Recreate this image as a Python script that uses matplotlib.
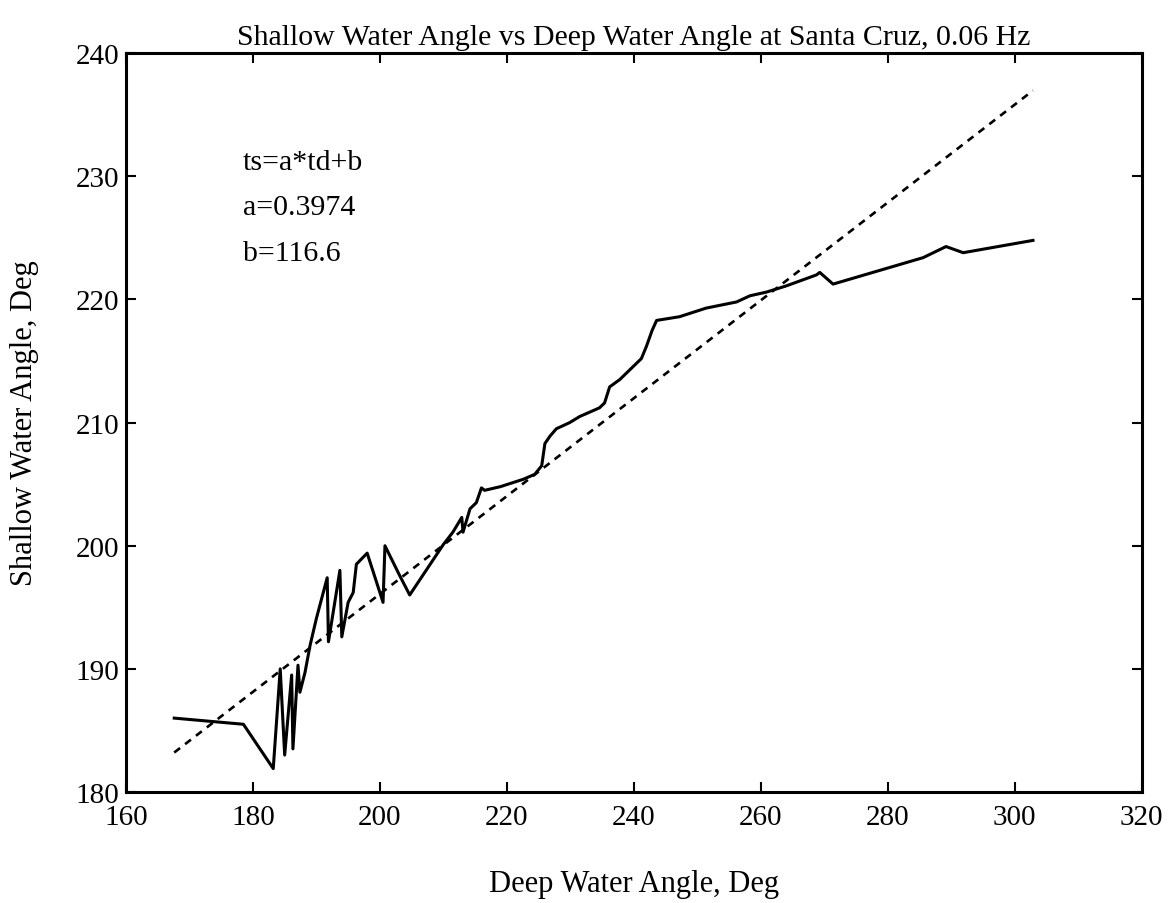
import numpy as np
import matplotlib
matplotlib.use("Agg")
import matplotlib.pyplot as plt

plt.rcParams['font.family'] = ['Liberation Serif', 'DejaVu Serif']

# deep water angle (deg) and shallow water angle (deg), Santa Cruz, 0.06 Hz
deepAngle = [167.6, 178.5, 183.2, 184.3, 185.0, 186.1, 186.3, 187.1, 187.4, 188.2,
             189.0, 190.0, 191.7, 191.9, 193.7, 194.0, 195.0, 195.8, 196.3, 198.0,
             200.5, 200.8, 203.1, 204.7, 210.0, 211.5, 212.9, 213.1, 214.2, 215.2,
             216.0, 216.5, 219.0, 222.6, 224.4, 225.5, 226.0, 226.8, 227.8, 229.9,
             231.5, 234.6, 235.4, 236.2, 237.8, 241.2, 242.0, 242.9, 243.6, 247.2,
             251.4, 256.2, 258.3, 260.9, 264.0, 268.8, 269.3, 271.4, 285.6, 289.2,
             291.9, 302.9]
shallowAngle = [186.0, 185.5, 181.9, 190.0, 183.0, 189.5, 183.5, 190.3, 188.1, 189.7,
                191.9, 194.1, 197.4, 192.2, 198.0, 192.6, 195.4, 196.2, 198.5, 199.4,
                195.4, 200.0, 197.6, 196.0, 200.1, 201.1, 202.3, 201.1, 203.0, 203.5,
                204.7, 204.5, 204.8, 205.4, 205.8, 206.5, 208.3, 208.9, 209.5, 210.0,
                210.5, 211.2, 211.6, 212.9, 213.5, 215.2, 216.2, 217.5, 218.3, 218.6,
                219.3, 219.8, 220.3, 220.6, 221.1, 222.0, 222.2, 221.25, 223.4, 224.3,
                223.8, 224.8]

# linear fit ts = a*td + b
a = 0.3974
b = 116.6
fitX = np.array([min(deepAngle), max(deepAngle)])
fitY = a * fitX + b

fig = plt.figure(figsize=(11.72, 9.04), dpi=100)
ax = fig.add_axes([0.1075, 0.1228, 0.8665, 0.8172])

ax.plot(deepAngle, shallowAngle, color='black', linewidth=2.2)
ax.plot(fitX, fitY, color='black', linewidth=1.9, linestyle=(0, (2.8, 2.4)))

ax.set_xlim(160, 320)
ax.set_ylim(180, 240)
ax.set_xticks(np.arange(160, 321, 20))
ax.set_yticks(np.arange(180, 241, 10))
ax.tick_params(direction='in', top=True, right=True, length=7, width=1.5,
               labelsize=21)
ax.tick_params(axis='x', pad=9)
ax.tick_params(axis='y', pad=5)
for s in ax.spines.values():
    s.set_linewidth(2.2)

ax.text(178.4, 231.2, 'ts=a*td+b', fontsize=21.5, va='center')
ax.text(178.4, 227.5, 'a=%s' % a, fontsize=21.5, va='center')
ax.text(178.4, 223.8, 'b=%s' % b, fontsize=21.5, va='center')

ax.set_title('Shallow Water Angle vs Deep Water Angle at Santa Cruz, 0.06 Hz',
             fontsize=21.5, pad=7)
ax.set_xlabel('Deep Water Angle, Deg', fontsize=22, labelpad=28)
ax.set_ylabel('Shallow Water Angle, Deg', fontsize=22, labelpad=26)

fig.savefig('out.png', dpi=100)
